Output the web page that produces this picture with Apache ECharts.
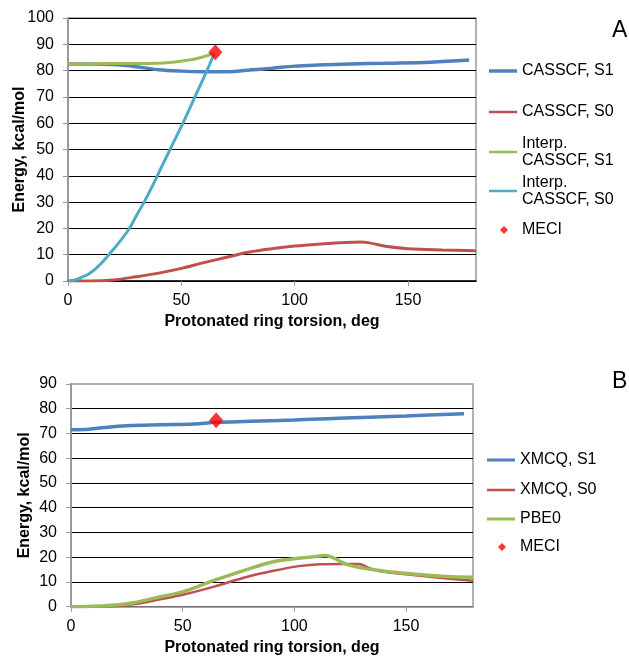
<!DOCTYPE html>
<html><head><meta charset="utf-8">
<script src="https://cdn.jsdelivr.net/npm/echarts@6/dist/echarts.min.js"></script>
<style>html,body{margin:0;padding:0;background:#fff}#c{width:629px;height:658px}</style>
</head><body><div id="c"></div>
<script>
// ---- Panel A data ----
const casS1X = [0, 10, 20, 30, 40, 50, 60, 70, 80, 90, 100, 110, 125, 140, 160, 177];
const casS1Y = [82.5, 82.5, 82.3, 81.5, 80.3, 79.8, 79.6, 79.6, 80.2, 80.9, 81.7, 82.1, 82.5, 82.8, 83.2, 84.0];
const casS0X = [0, 10, 20, 30, 40, 50, 60, 70, 80, 90, 100, 110, 120, 129, 133, 140, 150, 165, 180];
const casS0Y = [0, 0, 0.4, 1.6, 3.0, 4.8, 7.0, 9.0, 11.0, 12.3, 13.3, 14.0, 14.5, 14.8, 14.5, 13.2, 12.3, 11.8, 11.5];
const intS1X = [0, 10, 20, 30, 40, 45, 50, 55, 60, 64.5];
const intS1Y = [82.5, 82.6, 82.7, 82.7, 82.8, 83.1, 83.6, 84.2, 85.3, 86.5];
const intS0X = [0, 3, 6, 9, 12, 15, 18, 22.4, 26.8, 30, 33.4, 37, 39.4, 45, 50.7, 56, 61.3, 64.5];
const intS0Y = [0, 0.4, 1.4, 2.6, 4.5, 7, 10, 14.5, 19.6, 24.5, 29.7, 35.7, 40, 50, 60, 70, 80, 86.5];
const meciA = [[65, 87]];
// ---- Panel B data ----
const xmS1X = [0, 8, 15, 25, 40, 55, 65, 80, 100, 115, 130, 150, 176];
const xmS1Y = [71.5, 71.7, 72.4, 73.1, 73.5, 73.8, 74.5, 74.9, 75.5, 76.0, 76.5, 77.1, 78.0];
const xmS0X = [0, 10, 20, 28, 40, 50, 63.7, 78.6, 90.6, 102, 111.5, 120, 129, 133, 138, 153, 165, 180];
const xmS0Y = [0, 0, 0.3, 1, 3, 4.8, 8, 12, 14.5, 16.4, 17.2, 17.3, 17.3, 15.8, 14.4, 12.8, 11.7, 10.5];
const pbeX = [0, 10, 20, 28, 40, 50, 63.7, 78.6, 90.6, 102, 110, 113.7, 124, 138, 153, 168, 180];
const pbeY = [0, 0.2, 0.7, 1.6, 4, 6, 10.5, 15, 18.2, 19.6, 20.3, 20.7, 16.9, 14.6, 13.2, 12.2, 11.9];
const meciB = [[65, 75.3]];
// ---- labels ----
const xTitle = 'Protonated ring torsion, deg';
const yTitle = 'Energy, kcal/mol';
const panelLabels = ['A', 'B'];

const zip = (xs, ys) => xs.map((x, i) => [x, ys[i]]);
const FONT = '"Liberation Sans", Arial, sans-serif';
const BLUE = '#4F81BD', RED = '#C0504D', GREEN = '#9BBB59', CYAN = '#4BACC6';

function xAx(gi, lineColor) {
  return {
    type: 'value', gridIndex: gi, min: 0, max: 180, interval: 50,
    name: xTitle, nameLocation: 'middle', nameGap: 33, nameMoveOverlap: false,
    nameTextStyle: { fontFamily: FONT, fontSize: 16, fontWeight: 'bold', color: '#000' },
    axisLine: { lineStyle: { color: lineColor, width: 1.5 } },
    axisTick: { show: true, length: 5, lineStyle: { color: '#999' } },
    axisLabel: { fontFamily: FONT, fontSize: 16, color: '#000', margin: 12, showMaxLabel: false },
    splitLine: { show: false }
  };
}
function yAx(gi, max, gap, showMax) {
  return {
    type: 'value', gridIndex: gi, min: 0, max: max, interval: 10,
    name: yTitle, nameLocation: 'middle', nameGap: gap, nameMoveOverlap: false,
    nameTextStyle: { fontFamily: FONT, fontSize: 16, fontWeight: 'bold', color: '#000' },
    axisLine: { show: true, lineStyle: { color: '#999', width: 2 } },
    axisTick: { show: true, length: 5, lineStyle: { color: '#999' } },
    axisLabel: { fontFamily: FONT, fontSize: 16, color: '#000', margin: 14 },
    splitLine: { show: true, showMaxLine: showMax, lineStyle: { color: '#000', width: 1 } }
  };
}
function lineS(name, xi, data, color, width) {
  return { type: 'line', name, xAxisIndex: xi, yAxisIndex: xi, data, smooth: 0.35,
    showSymbol: false, symbol: 'none', color, lineStyle: { color, width }, z: 3 };
}
function meciS(name, xi, data) {
  return { type: 'scatter', name, xAxisIndex: xi, yAxisIndex: xi, data,
    symbol: 'diamond', symbolSize: [14, 16], color: '#FF0000', itemStyle: { color: '#FF0000' }, z: 5 };
}
function leg(name, left, centerY, lines, h) {
  const L = 17;
  const top = lines === 2 ? centerY - 1.5 * L : centerY - L / 2;
  const ts = { fontFamily: FONT, fontSize: 16, color: '#000', lineHeight: L };
  if (lines === 2) ts.padding = [L, 0, 0, 0];
  return {
    data: [name], left, top, orient: 'vertical', padding: 0,
    icon: 'rect', itemWidth: 28, itemHeight: h, selectedMode: false,
    formatter: n => n.replace('Interp. ', 'Interp.\n'),
    textStyle: ts
  };
}
function legMeci(name, iconCenterX, textLeft, centerY) {
  const L = 17;
  return {
    data: [name], left: iconCenterX - 4, top: centerY - L / 2, orient: 'vertical', padding: 0,
    icon: 'diamond', itemWidth: 8, itemHeight: 8, selectedMode: false,
    formatter: n => n.trim(),
    textStyle: { fontFamily: FONT, fontSize: 16, color: '#000', lineHeight: L,
      padding: [0, 0, 0, textLeft - (iconCenterX + 4 + 5)] }
  };
}

const chart = echarts.init(document.getElementById('c'), null, { renderer: 'canvas' });
chart.setOption({
  animation: false,
  backgroundColor: '#fff',
  title: [
    { text: panelLabels[0], left: 607, top: 14, textStyle: { fontFamily: FONT, fontSize: 23, fontWeight: 'normal', color: '#000' } },
    { text: panelLabels[1], left: 607, top: 365, textStyle: { fontFamily: FONT, fontSize: 23, fontWeight: 'normal', color: '#000' } }
  ],
  grid: [
    { left: 68, top: 18, width: 408, height: 263, show: true, borderColor: '#999', borderWidth: 1.5,
      backgroundColor: 'transparent', containLabel: false, outerBoundsMode: 'none' },
    { left: 71, top: 384, width: 402, height: 222.7, show: true, borderColor: '#999', borderWidth: 1.5,
      backgroundColor: 'transparent', containLabel: false, outerBoundsMode: 'none' }
  ],
  xAxis: [xAx(0, '#000'), xAx(1, '#999')],
  yAxis: [yAx(0, 100, 40, true), yAx(1, 90, 38, false)],
  legend: [
    leg('CASSCF, S1', 489, 71, 1, 3.5),
    leg('CASSCF, S0', 489, 112, 1, 2.5),
    leg('Interp. CASSCF, S1', 489, 152, 2, 2.5),
    leg('Interp. CASSCF, S0', 489, 191, 2, 2.5),
    legMeci('MECI', 504, 522, 230),
    leg('XMCQ, S1', 487, 460, 1, 3),
    leg('XMCQ, S0', 487, 490, 1, 2.5),
    leg('PBE0', 487, 519, 1, 3),
    legMeci('MECI ', 502, 520, 547)
  ],
  series: [
    lineS('CASSCF, S1', 0, zip(casS1X, casS1Y), BLUE, 3.5),
    lineS('CASSCF, S0', 0, zip(casS0X, casS0Y), RED, 3),
    lineS('Interp. CASSCF, S1', 0, zip(intS1X, intS1Y), GREEN, 3),
    lineS('Interp. CASSCF, S0', 0, zip(intS0X, intS0Y), CYAN, 3),
    meciS('MECI', 0, meciA),
    lineS('XMCQ, S1', 1, zip(xmS1X, xmS1Y), BLUE, 3.5),
    lineS('XMCQ, S0', 1, zip(xmS0X, xmS0Y), RED, 2.5),
    lineS('PBE0', 1, zip(pbeX, pbeY), GREEN, 3.5),
    meciS('MECI ', 1, meciB)
  ]
});
</script></body></html>
